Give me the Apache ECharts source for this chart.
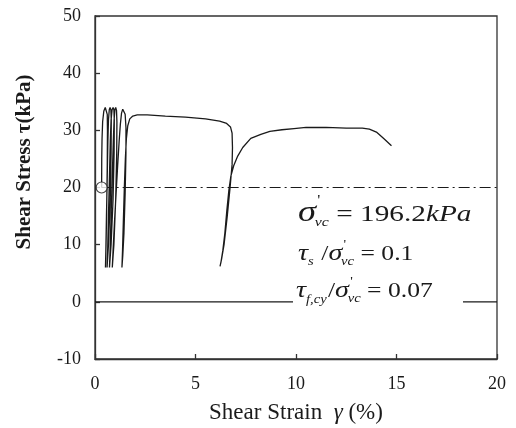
<!DOCTYPE html>
<html>
<head>
<meta charset="utf-8">
<script src="https://cdn.jsdelivr.net/npm/echarts@6/dist/echarts.min.js"></script>
<style>
  html, body { margin: 0; padding: 0; background: #fff; }
  #chart { width: 516px; height: 428px; }
</style>
</head>
<body>
<div id="chart"></div>
<script>
// Shear strain (%) and shear stress (kPa) along the test path
const strain = [
  0.33, 0.335, 0.35, 0.38, 0.44, 0.51, 0.57, 0.61, 0.62, 0.61, 0.58, 0.55, 0.52,
  0.54, 0.57, 0.61, 0.64, 0.67, 0.71, 0.75, 0.79, 0.81, 0.80, 0.76, 0.67, 0.60,
  0.63, 0.67, 0.72, 0.76, 0.80, 0.85, 0.90, 0.94, 0.96, 0.95, 0.90, 0.80, 0.72,
  0.75, 0.80, 0.86, 0.91, 0.95, 0.99, 1.03, 1.07, 1.09, 1.08, 1.03, 0.94, 0.86,
  0.90, 0.97, 1.05, 1.13, 1.20, 1.26, 1.32, 1.38, 1.44, 1.50, 1.54, 1.54, 1.50, 1.44, 1.38, 1.34,
  1.37, 1.41, 1.46, 1.51, 1.56, 1.63, 1.73, 1.88, 2.1, 2.6, 3.5, 4.5, 5.5, 6.2, 6.55, 6.74,
  6.82, 6.84, 6.82, 6.72, 6.58, 6.42, 6.3, 6.22,
  6.27, 6.36, 6.46, 6.56, 6.66, 6.76, 6.9, 7.1, 7.35, 7.75, 8.25, 8.7, 9.3, 9.9,
  10.5, 11.5, 12.5, 13.3, 13.65, 14.0, 14.35, 14.75
];
const stress = [
  20, 25, 28.5, 31.5, 33.4, 34.0, 33.9, 32.8, 30, 24, 16, 10, 6.0,
  9, 15, 22, 28, 31.8, 33.6, 34.0, 33.6, 31.8, 26, 18, 10, 6.0,
  9, 15, 22, 28, 31.8, 33.6, 34.0, 33.6, 31.8, 26, 18, 10, 6.0,
  9, 15, 22, 28, 31.8, 33.6, 34.0, 33.5, 31.5, 26, 18, 10, 6.0,
  9, 14, 19, 24, 28, 31, 33, 33.7, 33.6, 32.8, 30.5, 26, 19, 12, 8, 6.0,
  9, 14, 20, 25, 28.5, 30.8, 32.0, 32.5, 32.7, 32.7, 32.5, 32.3, 32.0, 31.6, 31.2, 30.6,
  29.5, 27, 24, 20, 15, 10, 7.5, 6.2,
  7, 9, 12, 16, 19.5, 22, 23.8, 25.5, 27, 28.6, 29.3, 29.8, 30.1, 30.3,
  30.5, 30.5, 30.4, 30.4, 30.2, 29.7, 28.6, 27.3
];
// Initial state and reference levels
const startStrain = 0.33;
const startStress = 20;
const staticStress = 20;   // dash-dot level
const zeroStress = 0;
const xTicks = [0, 5, 10, 15, 20];
const yTicks = [-10, 0, 10, 20, 30, 40, 50];

const SERIF = '"Liberation Serif", "Times New Roman", serif';
const INK = '#1a1a1a';

const chart = echarts.init(document.getElementById('chart'), null, { renderer: 'canvas' });

// Lay out a row of text pieces left to right (math-style annotation)
const ctx = document.createElement('canvas').getContext('2d');
function mathRow(tokens) {
  let x = 0;
  const els = [];
  tokens.forEach(tk => {
    const font = (tk.it ? 'italic ' : '') + tk.size + 'px ' + SERIF;
    ctx.font = font;
    const w = ctx.measureText(tk.t).width;
    const px = x + (tk.dx || 0);
    els.push({
      type: 'text',
      x: px,
      y: (tk.dy || 0) - tk.size * 0.3,
      z: 100,
      style: { text: tk.t, font: font, fill: INK, textAlign: 'left', textVerticalAlign: 'middle' }
    });
    if (!tk.noAdvance) x = px + w;
  });
  return els;
}

const rowScale = 1.22;
const line1 = mathRow([
  { t: 'σ', size: 30, it: true },
  { t: '\'', size: 14, dy: -16, dx: 1, noAdvance: true },
  { t: 'vc', size: 13, it: true, dy: 4, dx: -1 },
  { t: ' = 196.2', size: 24 },
  { t: 'kPa', size: 24, it: true }
]);
const line2 = mathRow([
  { t: 'τ', size: 23, it: true },
  { t: 's', size: 12, it: true, dy: 4 },
  { t: ' /', size: 21, dx: 1 },
  { t: 'σ', size: 23, it: true },
  { t: '\'', size: 12, dy: -13, dx: 1, noAdvance: true },
  { t: 'vc', size: 12, it: true, dy: 4, dx: -1 },
  { t: ' = 0.1', size: 21 }
]);
const line3 = mathRow([
  { t: 'τ', size: 23, it: true },
  { t: 'f,cy', size: 12, it: true, dy: 5 },
  { t: '/', size: 21, dx: 1 },
  { t: 'σ', size: 23, it: true },
  { t: '\'', size: 12, dy: -13, dx: 1, noAdvance: true },
  { t: 'vc', size: 12, it: true, dy: 4, dx: -1 },
  { t: ' = 0.07', size: 21 }
]);

const option = {
  animation: false,
  backgroundColor: '#fff',
  grid: {
    left: 95, right: 19, top: 16, bottom: 69,
    outerBoundsMode: 'none', containLabel: false,
    show: true, borderColor: '#333', borderWidth: 1.3, backgroundColor: 'transparent'
  },
  xAxis: {
    type: 'value', min: xTicks[0], max: xTicks[xTicks.length - 1], interval: 5,
    axisLine: { show: true, onZero: false, lineStyle: { color: '#333', width: 1.3 } },
    axisTick: { show: true, inside: true, length: 5, lineStyle: { color: '#333', width: 1.3 } },
    splitLine: { show: false },
    axisLabel: { fontFamily: SERIF, fontSize: 18, color: INK, margin: 16 },
    name: '{a|Shear Strain  }{g|γ}{a| (%)}',
    nameLocation: 'middle', nameGap: 42,
    nameTextStyle: {
      rich: {
        a: { fontFamily: SERIF, fontSize: 23, color: INK },
        g: { fontFamily: SERIF, fontSize: 23, fontStyle: 'italic', color: INK }
      }
    }
  },
  yAxis: {
    type: 'value', min: yTicks[0], max: yTicks[yTicks.length - 1], interval: 10,
    axisLine: { show: true, onZero: false, lineStyle: { color: '#333', width: 1.3 } },
    axisTick: { show: true, inside: true, length: 5, lineStyle: { color: '#333', width: 1.3 } },
    splitLine: { show: false },
    axisLabel: { fontFamily: SERIF, fontSize: 18, color: INK, margin: 14 }
  },
  graphic: [
    {
      type: 'text', x: 25, y: 162, rotation: Math.PI / 2,
      style: {
        text: 'Shear Stress τ(kPa)', font: 'bold 21px ' + SERIF, fill: INK,
        textAlign: 'center', textVerticalAlign: 'middle'
      }
    },
    // white box breaking the zero line behind the last annotation row
    { type: 'rect', shape: { x: 293, y: 292, width: 170, height: 18 }, style: { fill: '#fff' }, z: 50 },
    { type: 'group', x: 298, y: 222, scaleX: rowScale, children: line1 },
    { type: 'group', x: 298, y: 261, scaleX: rowScale, children: line2 },
    { type: 'group', x: 296, y: 298, scaleX: rowScale, children: line3 }
  ],
  series: [
    {
      type: 'line',
      data: [[xTicks[0], zeroStress], [xTicks[xTicks.length - 1], zeroStress]],
      showSymbol: false, silent: true,
      lineStyle: { color: INK, width: 1.3 }, z: 1
    },
    {
      type: 'line',
      data: [[startStrain, staticStress], [xTicks[xTicks.length - 1], staticStress]],
      showSymbol: false, silent: true,
      lineStyle: { color: INK, width: 1.1, type: [11, 4, 2, 4] }, z: 1
    },
    {
      type: 'line',
      data: strain.map((s, i) => [s, stress[i]]),
      showSymbol: false, smooth: false,
      lineStyle: { color: INK, width: 1.3 }, z: 3
    },
    {
      type: 'scatter',
      data: [[startStrain, startStress]],
      symbol: 'circle', symbolSize: 11,
      itemStyle: { color: '#fff', borderColor: INK, borderWidth: 1.2 }, z: 5
    }
  ]
};
chart.setOption(option);
</script>
</body>
</html>
